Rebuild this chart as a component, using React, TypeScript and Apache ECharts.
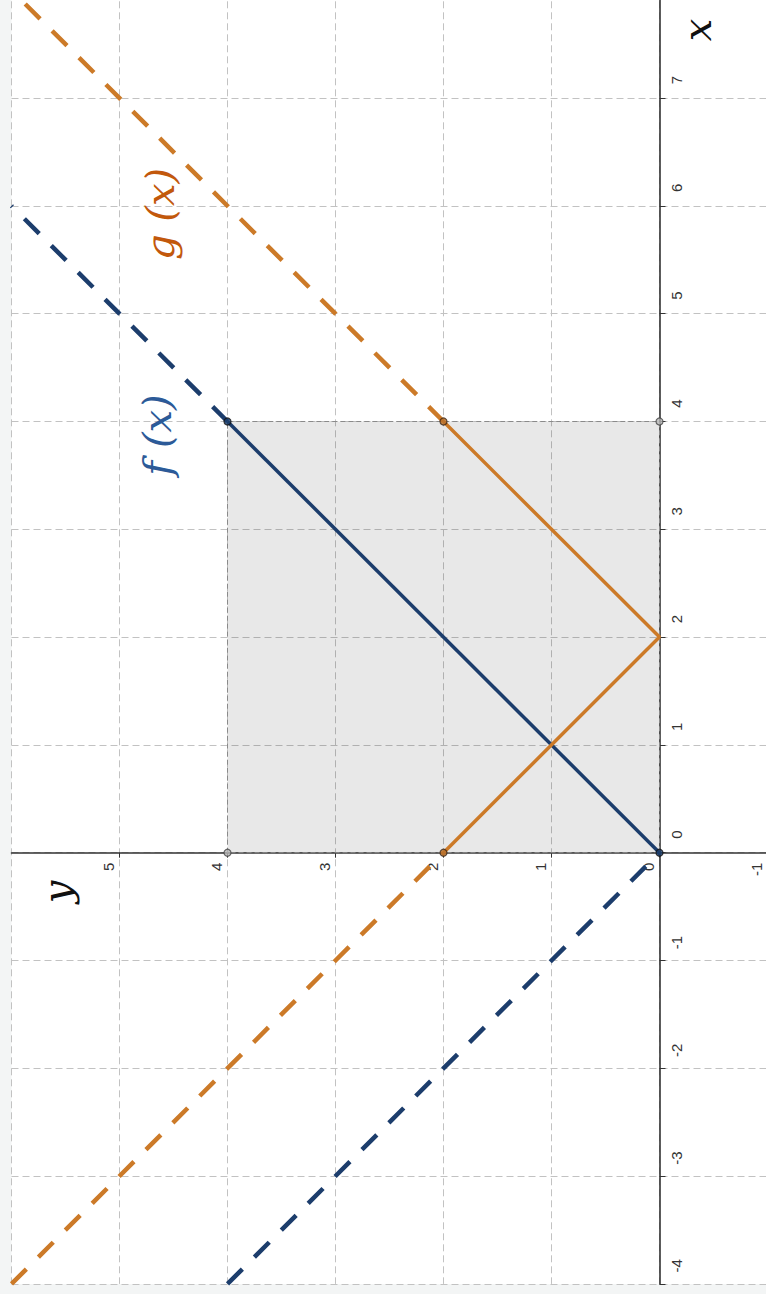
import React, { useEffect, useRef } from "react";
import * as echarts from "echarts";

// Math coordinates: [x, y]; the picture is rotated 90° counter-clockwise,
// so math x runs upward and math y runs leftward.
const fSolid: number[][] = [[0, 0], [4, 4]];
const fDashLeft: number[][] = [[-4, 4], [0, 0]];
const fDashRight: number[][] = [[4, 4], [6, 6]];
const gSolid: number[][] = [[0, 2], [2, 0], [4, 2]];
const gDashLeft: number[][] = [[-4, 6], [0, 2]];
const gDashRight: number[][] = [[4, 2], [8, 6]];
const fPoints: number[][] = [[0, 0], [4, 4]];
const gPoints: number[][] = [[0, 2], [4, 2]];
const cornerPoints: number[][] = [[0, 4], [4, 0]];
const shadedX: number[] = [0, 4];
const shadedY: number[] = [0, 4];
const mathXRange: number[] = [-4, 8];
const mathYRange: number[] = [-1, 6];

const BLUE = "#1c3d6c";
const ORANGE = "#cc7a28";

// ECharts x axis = math y (horizontal, inverse), ECharts y axis = math x
const toChart = (pts: number[][]) => pts.map(([x, y]) => [y, x]);

const GRID_LEFT = 11.5;
const GRID_RIGHT = -1.5;
const GRID_TOP = -9.7;
const GRID_BOTTOM = 10.1;
const W = 766;
const H = 1294;

export default function App() {
  const ref = useRef<HTMLDivElement>(null);
  useEffect(() => {
    if (!ref.current) return;
    const chart = echarts.init(ref.current, null, { renderer: "svg" });
    const dashed = (color: string) => ({
      color,
      width: 4.5,
      type: [21, 17] as any,
    });
    const plotW = W - GRID_LEFT - GRID_RIGHT;
    const plotH = H - GRID_TOP - GRID_BOTTOM;
    // place axis lines at the zero of the other axis
    const yAxisOffset = -plotW * (mathYRange[1] - 0) / (mathYRange[1] - mathYRange[0]);
    const xAxisOffset = -plotH * (0 - mathXRange[0]) / (mathXRange[1] - mathXRange[0]);
    chart.setOption({
      animation: false,
      backgroundColor: "#f3f5f5",
      grid: {
        show: true,
        backgroundColor: "#ffffff",
        borderWidth: 0,
        left: GRID_LEFT,
        right: GRID_RIGHT,
        top: GRID_TOP,
        bottom: GRID_BOTTOM,
        containLabel: false,
        outerBoundsMode: "none",
      },
      xAxis: {
        type: "value",
        position: "bottom",
        offset: xAxisOffset,
        inverse: true,
        min: mathYRange[0],
        max: mathYRange[1],
        interval: 1,
        axisLine: { onZero: false, lineStyle: { color: "#333", width: 1.6 } },
        axisTick: { show: true, length: 5, lineStyle: { color: "#333" } },
        axisLabel: {
          rotate: 90,
          margin: 10,
          fontSize: 15,
          color: "#333",
          fontFamily: "Liberation Sans",
          verticalAlign: "bottom",
          padding: [0, 0, 4, 0],
          showMaxLabel: false,
        },
        splitLine: { show: true, lineStyle: { color: "#c2c2c2", type: [7, 4], width: 1 } },
      },
      yAxis: {
        type: "value",
        position: "left",
        offset: yAxisOffset,
        min: mathXRange[0],
        max: mathXRange[1],
        interval: 1,
        axisLine: { onZero: false, lineStyle: { color: "#333", width: 1.6 } },
        axisTick: { show: true, inside: true, length: 6, lineStyle: { color: "#333" } },
        axisLabel: {
          inside: true,
          rotate: 90,
          margin: 9,
          fontSize: 15,
          color: "#333",
          fontFamily: "Liberation Sans",
          padding: [0, 0, 0, 36],
          showMaxLabel: false,
        },
        splitLine: { show: true, lineStyle: { color: "#c2c2c2", type: [7, 4], width: 1 } },
      },
      series: [
        {
          type: "line",
          name: "f(x)",
          data: toChart(fSolid),
          symbol: "none",
          lineStyle: { color: BLUE, width: 3.5 },
          z: 3,
          markArea: {
            silent: true,
            label: { show: false },
            itemStyle: {
              color: "rgba(0,0,0,0.09)",
              borderColor: "#8a8a8a",
              borderWidth: 1,
              borderType: [5, 3],
            },
            data: [[{ coord: [shadedY[0], shadedX[0]] }, { coord: [shadedY[1], shadedX[1]] }]],
          },
        },
        { type: "line", data: toChart(fDashLeft), symbol: "none", lineStyle: dashed(BLUE), z: 3 },
        { type: "line", data: toChart(fDashRight), symbol: "none", lineStyle: dashed(BLUE), z: 3 },
        {
          type: "line",
          name: "g(x)",
          data: toChart(gSolid),
          symbol: "none",
          lineStyle: { color: ORANGE, width: 3.5 },
          z: 3,
        },
        { type: "line", data: toChart(gDashLeft), symbol: "none", lineStyle: dashed(ORANGE), z: 3 },
        { type: "line", data: toChart(gDashRight), symbol: "none", lineStyle: dashed(ORANGE), z: 3 },
        {
          type: "scatter",
          data: toChart(fPoints),
          symbolSize: 7,
          itemStyle: { color: BLUE, borderColor: "#111", borderWidth: 1.2 },
          z: 5,
        },
        {
          type: "scatter",
          data: toChart(gPoints),
          symbolSize: 7,
          itemStyle: { color: "#b8702c", borderColor: "#3a2616", borderWidth: 1.2 },
          z: 5,
        },
        {
          type: "scatter",
          data: toChart(cornerPoints),
          symbolSize: 7,
          itemStyle: { color: "#b5b5b5", borderColor: "#444", borderWidth: 1.2 },
          z: 5,
        },
      ],
      graphic: [
        {
          type: "text",
          x: 157,
          y: 435,
          rotation: Math.PI / 2,
          z: 10,
          style: {
            text: "f (x)",
            fill: "#2c5a98",
            font: "italic 40px 'DejaVu Serif'",
            textAlign: "center",
            textVerticalAlign: "middle",
          },
        },
        {
          type: "text",
          x: 160,
          y: 214,
          rotation: Math.PI / 2,
          z: 10,
          style: {
            text: "g (x)",
            fill: "#c2580c",
            font: "italic 40px 'DejaVu Serif'",
            textAlign: "center",
            textVerticalAlign: "middle",
          },
        },
        {
          type: "text",
          x: 697,
          y: 30,
          rotation: Math.PI / 2,
          z: 10,
          style: {
            text: "x",
            fill: "#111",
            font: "italic 40px 'DejaVu Serif'",
            textAlign: "center",
            textVerticalAlign: "middle",
          },
        },
        {
          type: "text",
          x: 57,
          y: 892,
          rotation: Math.PI / 2,
          z: 10,
          style: {
            text: "y",
            fill: "#111",
            font: "italic 40px 'DejaVu Serif'",
            textAlign: "center",
            textVerticalAlign: "middle",
          },
        },
      ],
    });
    return () => chart.dispose();
  }, []);
  return (
    <div
      ref={ref}
      style={{ position: "fixed", left: 0, top: 0, width: W, height: H }}
    />
  );
}
